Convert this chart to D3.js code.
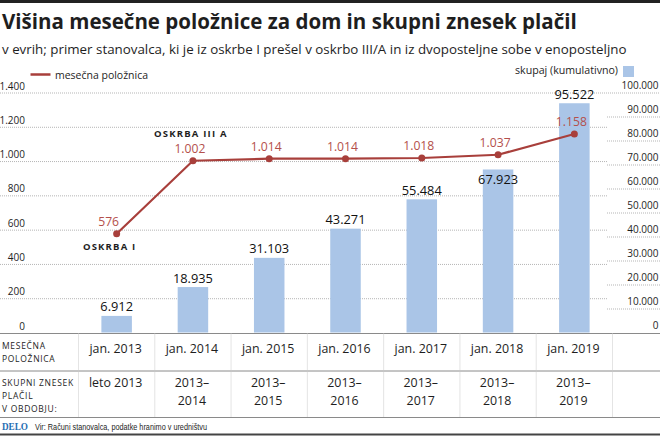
<!DOCTYPE html>
<html><head><meta charset="utf-8">
<script src="https://cdn.jsdelivr.net/npm/d3@7"></script>
<style>
html,body{margin:0;padding:0;background:#fff;}
svg{display:block;font-family:"Open Sans",sans-serif;}
</style></head>
<body>
<svg id="c" width="660" height="437"></svg>
<script>
// ---- data ----
const categories = ["2013","2014","2015","2016","2017","2018","2019"];
const monthlyBill = [576, 1002, 1014, 1014, 1018, 1037, 1158];
const cumulativeTotal = [6912, 18935, 31103, 43271, 55484, 67923, 95522];
const rowMonth = ["jan. 2013","jan. 2014","jan. 2015","jan. 2016","jan. 2017","jan. 2018","jan. 2019"];
const rowPeriod = [["leto 2013"],["2013–","2014"],["2013–","2015"],["2013–","2016"],["2013–","2017"],["2013–","2018"],["2013–","2019"]];
const leftTicks = [0,200,400,600,800,1000,1200,1400];
const rightTicks = [0,10000,20000,30000,40000,50000,60000,70000,80000,90000,100000];
const annotations = [{i:0, text:"OSKRBA I", pos:"below"}, {i:1, text:"OSKRBA III A", pos:"above"}];
const title = "Višina mesečne položnice za dom in skupni znesek plačil";
const subtitle = "v evrih; primer stanovalca, ki je iz oskrbe I prešel v oskrbo III/A in iz dvoposteljne sobe v enoposteljno";
const legendLine = "mesečna položnica";
const legendBar = "skupaj (kumulativno)";
const rowHead1 = ["MESEČNA","POLOŽNICA"];
const rowHead2 = ["SKUPNI ZNESEK","PLAČIL","V OBDOBJU:"];
const source = "Vir: Računi stanovalca, podatke hranimo v uredništvu";

// ---- setup ----
const loc = d3.formatLocale({decimal:",", thousands:".", grouping:[3], currency:["","€"]});
const fmt = loc.format(",d");
const svg = d3.select("#c");
const W = 660;
const RED = "#a83f3b", REDTXT = "#b4504b", BAR = "#aac5e7", TXT = "#1e1e1e";

const x = d3.scaleBand().domain(categories).range([78.5, 612.5]).paddingInner(0.6).paddingOuter(0.3);
const yL = d3.scaleLinear().domain([0,1400]).range([332.5, 92.5]);
const yR = d3.scaleLinear().domain([0,100000]).range([332.5, 92.5]);
const cx = c => x(c) + x.bandwidth()/2;
const step = x.step();
const bandEdges = categories.map(c => x(c) - x.paddingOuter()*step).concat([x(categories[6]) - x.paddingOuter()*step + step]);

function fit(sel, width){
  const l = sel.node().getComputedTextLength();
  const fs = parseFloat(sel.attr("font-size"));
  sel.attr("font-size", (fs*width/l).toFixed(2));
}

// top rule
svg.append("rect").attr("x",0).attr("y",0).attr("width",W).attr("height",3).attr("fill","#222");

// title / subtitle
fit(svg.append("text").attr("x",2).attr("y",28.5).attr("font-size",21).attr("font-weight",700).attr("fill",TXT).text(title), 575);
fit(svg.append("text").attr("x",2).attr("y",53.5).attr("font-size",14).attr("fill",TXT).text(subtitle), 625);

// legends
svg.append("line").attr("x1",30.5).attr("x2",50.5).attr("y1",74.5).attr("y2",74.5).attr("stroke",RED).attr("stroke-width",2.5);
fit(svg.append("text").attr("x",55).attr("y",78.5).attr("font-size",12).attr("fill",TXT).text(legendLine), 93);
fit(svg.append("text").attr("x",618).attr("y",74).attr("text-anchor","end").attr("font-size",12).attr("fill",TXT).text(legendBar), 103);
svg.append("rect").attr("x",623).attr("y",66).attr("width",11).attr("height",11).attr("fill",BAR);

// left axis with gridlines
const gL = svg.append("g")
  .call(d3.axisRight(yL).tickValues(leftTicks).tickSize(607).tickFormat(fmt));
gL.select(".domain").remove();
gL.selectAll(".tick line").attr("stroke","#b5b5b5").attr("stroke-dasharray","1,1");
gL.selectAll(".tick text").attr("x",25).attr("dy",-3.5).attr("text-anchor","end")
  .attr("font-family","Open Sans").attr("font-size",10).attr("fill",TXT);
gL.selectAll(".tick").filter(d => d===0).select("line").remove();
gL.selectAll(".tick").filter(d => d===1400).select("line").attr("x2",W);

// right axis gridlines
const gR = svg.append("g").attr("transform","translate(607,0)")
  .call(d3.axisRight(yR).tickValues(rightTicks).tickSize(W-607).tickFormat(fmt));
gR.select(".domain").remove();
gR.selectAll(".tick line").attr("stroke","#b5b5b5").attr("stroke-dasharray","1,1");
gR.selectAll(".tick text").attr("x",W-607-1.5).attr("dy",-4.5).attr("text-anchor","end")
  .attr("font-family","Open Sans").attr("font-size",10).attr("fill",TXT);
gR.selectAll(".tick").filter(d => d===0 || d===100000).select("line").remove();

// bars
svg.append("g").selectAll("rect").data(cumulativeTotal).join("rect")
  .attr("x",(d,i)=>x(categories[i])).attr("width",x.bandwidth())
  .attr("y",d=>yR(d)).attr("height",d=>yR(0)-yR(d)).attr("fill",BAR);

// line
const line = d3.line().x((d,i)=>cx(categories[i])).y(d=>yL(d));
svg.append("path").datum(monthlyBill).attr("d",line).attr("fill","none").attr("stroke",RED).attr("stroke-width",2.2);
svg.append("g").selectAll("circle").data(monthlyBill).join("circle")
  .attr("cx",(d,i)=>cx(categories[i])).attr("cy",d=>yL(d)).attr("r",3.5).attr("fill",RED);

// bar labels (placed inside bar when they would collide with the line)
svg.append("g").selectAll("text").data(cumulativeTotal).join("text")
  .attr("x",(d,i)=>cx(categories[i])).attr("text-anchor","middle")
  .attr("y",(d,i)=>{
    const top = yR(d), py = yL(monthlyBill[i]);
    const a = top-18, b = top-4;
    return (py+4 > a && py-4 < b) ? top+15 : top-4.5;
  })
  .attr("font-size",12.8).attr("font-weight",500).attr("fill","#111").text(d=>fmt(d));

// line labels
svg.append("g").selectAll("text").data(monthlyBill).join("text")
  .attr("x",(d,i)=>cx(categories[i]) - (i===0?8:3)).attr("y",d=>yL(d)-8)
  .attr("text-anchor","middle").attr("font-size",12.2).attr("fill",REDTXT).text(d=>fmt(d));

// annotations
svg.append("g").selectAll("text").data(annotations).join("text")
  .attr("x",d=>cx(categories[d.i]) - (d.pos==="below"?7:2))
  .attr("y",d=>d.pos==="below" ? yL(monthlyBill[d.i])+16 : yL(monthlyBill[d.i])-23.5)
  .attr("text-anchor","middle").attr("font-size",9.5).attr("font-weight",700)
  .attr("letter-spacing",1.2).attr("fill",TXT).text(d=>d.text);

// table
const tTop = 333.5, tMid = 371, tBot = 417.5;
[tTop,tMid,tBot].forEach(yy => svg.append("line").attr("x1",0).attr("x2",W).attr("y1",yy).attr("y2",yy).attr("stroke","#8a8a8a").attr("stroke-width",1));
svg.append("g").selectAll("line").data(bandEdges).join("line")
  .attr("x1",d=>d).attr("x2",d=>d).attr("y1",tTop).attr("y2",tBot)
  .attr("stroke","#c8c8c8").attr("stroke-dasharray","1,1");

const hdr = (lines, y0) => lines.forEach((t,k)=>svg.append("text").attr("x",2).attr("y",y0+k*13)
  .attr("font-size",8.5).attr("letter-spacing",0.7).attr("fill",TXT).text(t));
hdr(rowHead1, 349);
hdr(rowHead2, 385.5);

svg.append("g").selectAll("text").data(rowMonth).join("text")
  .attr("x",(d,i)=>cx(categories[i])-1).attr("y",352.5).attr("text-anchor","middle")
  .attr("font-size",12.4).attr("fill",TXT).text(d=>d);
rowPeriod.forEach((lines,i)=>lines.forEach((t,k)=>svg.append("text")
  .attr("x",cx(categories[i])-1).attr("y",387+k*18).attr("text-anchor","middle")
  .attr("font-size",12.4).attr("fill",TXT).text(t)));

// footer
svg.append("text").attr("x",2).attr("y",429.5).attr("font-family","Liberation Serif, DejaVu Serif, serif")
  .attr("font-weight",700).attr("font-size",11).attr("fill","#1f6db3").attr("textLength",26).attr("lengthAdjust","spacingAndGlyphs").text("DELO");
svg.append("text").attr("x",35).attr("y",429.5).attr("font-family","Liberation Sans Narrow, Liberation Sans, sans-serif")
  .attr("font-size",9).attr("fill",TXT).attr("textLength",172).attr("lengthAdjust","spacingAndGlyphs").text(source);
svg.append("rect").attr("x",0).attr("y",433.5).attr("width",W).attr("height",2).attr("fill","#444");
</script>
</body></html>
